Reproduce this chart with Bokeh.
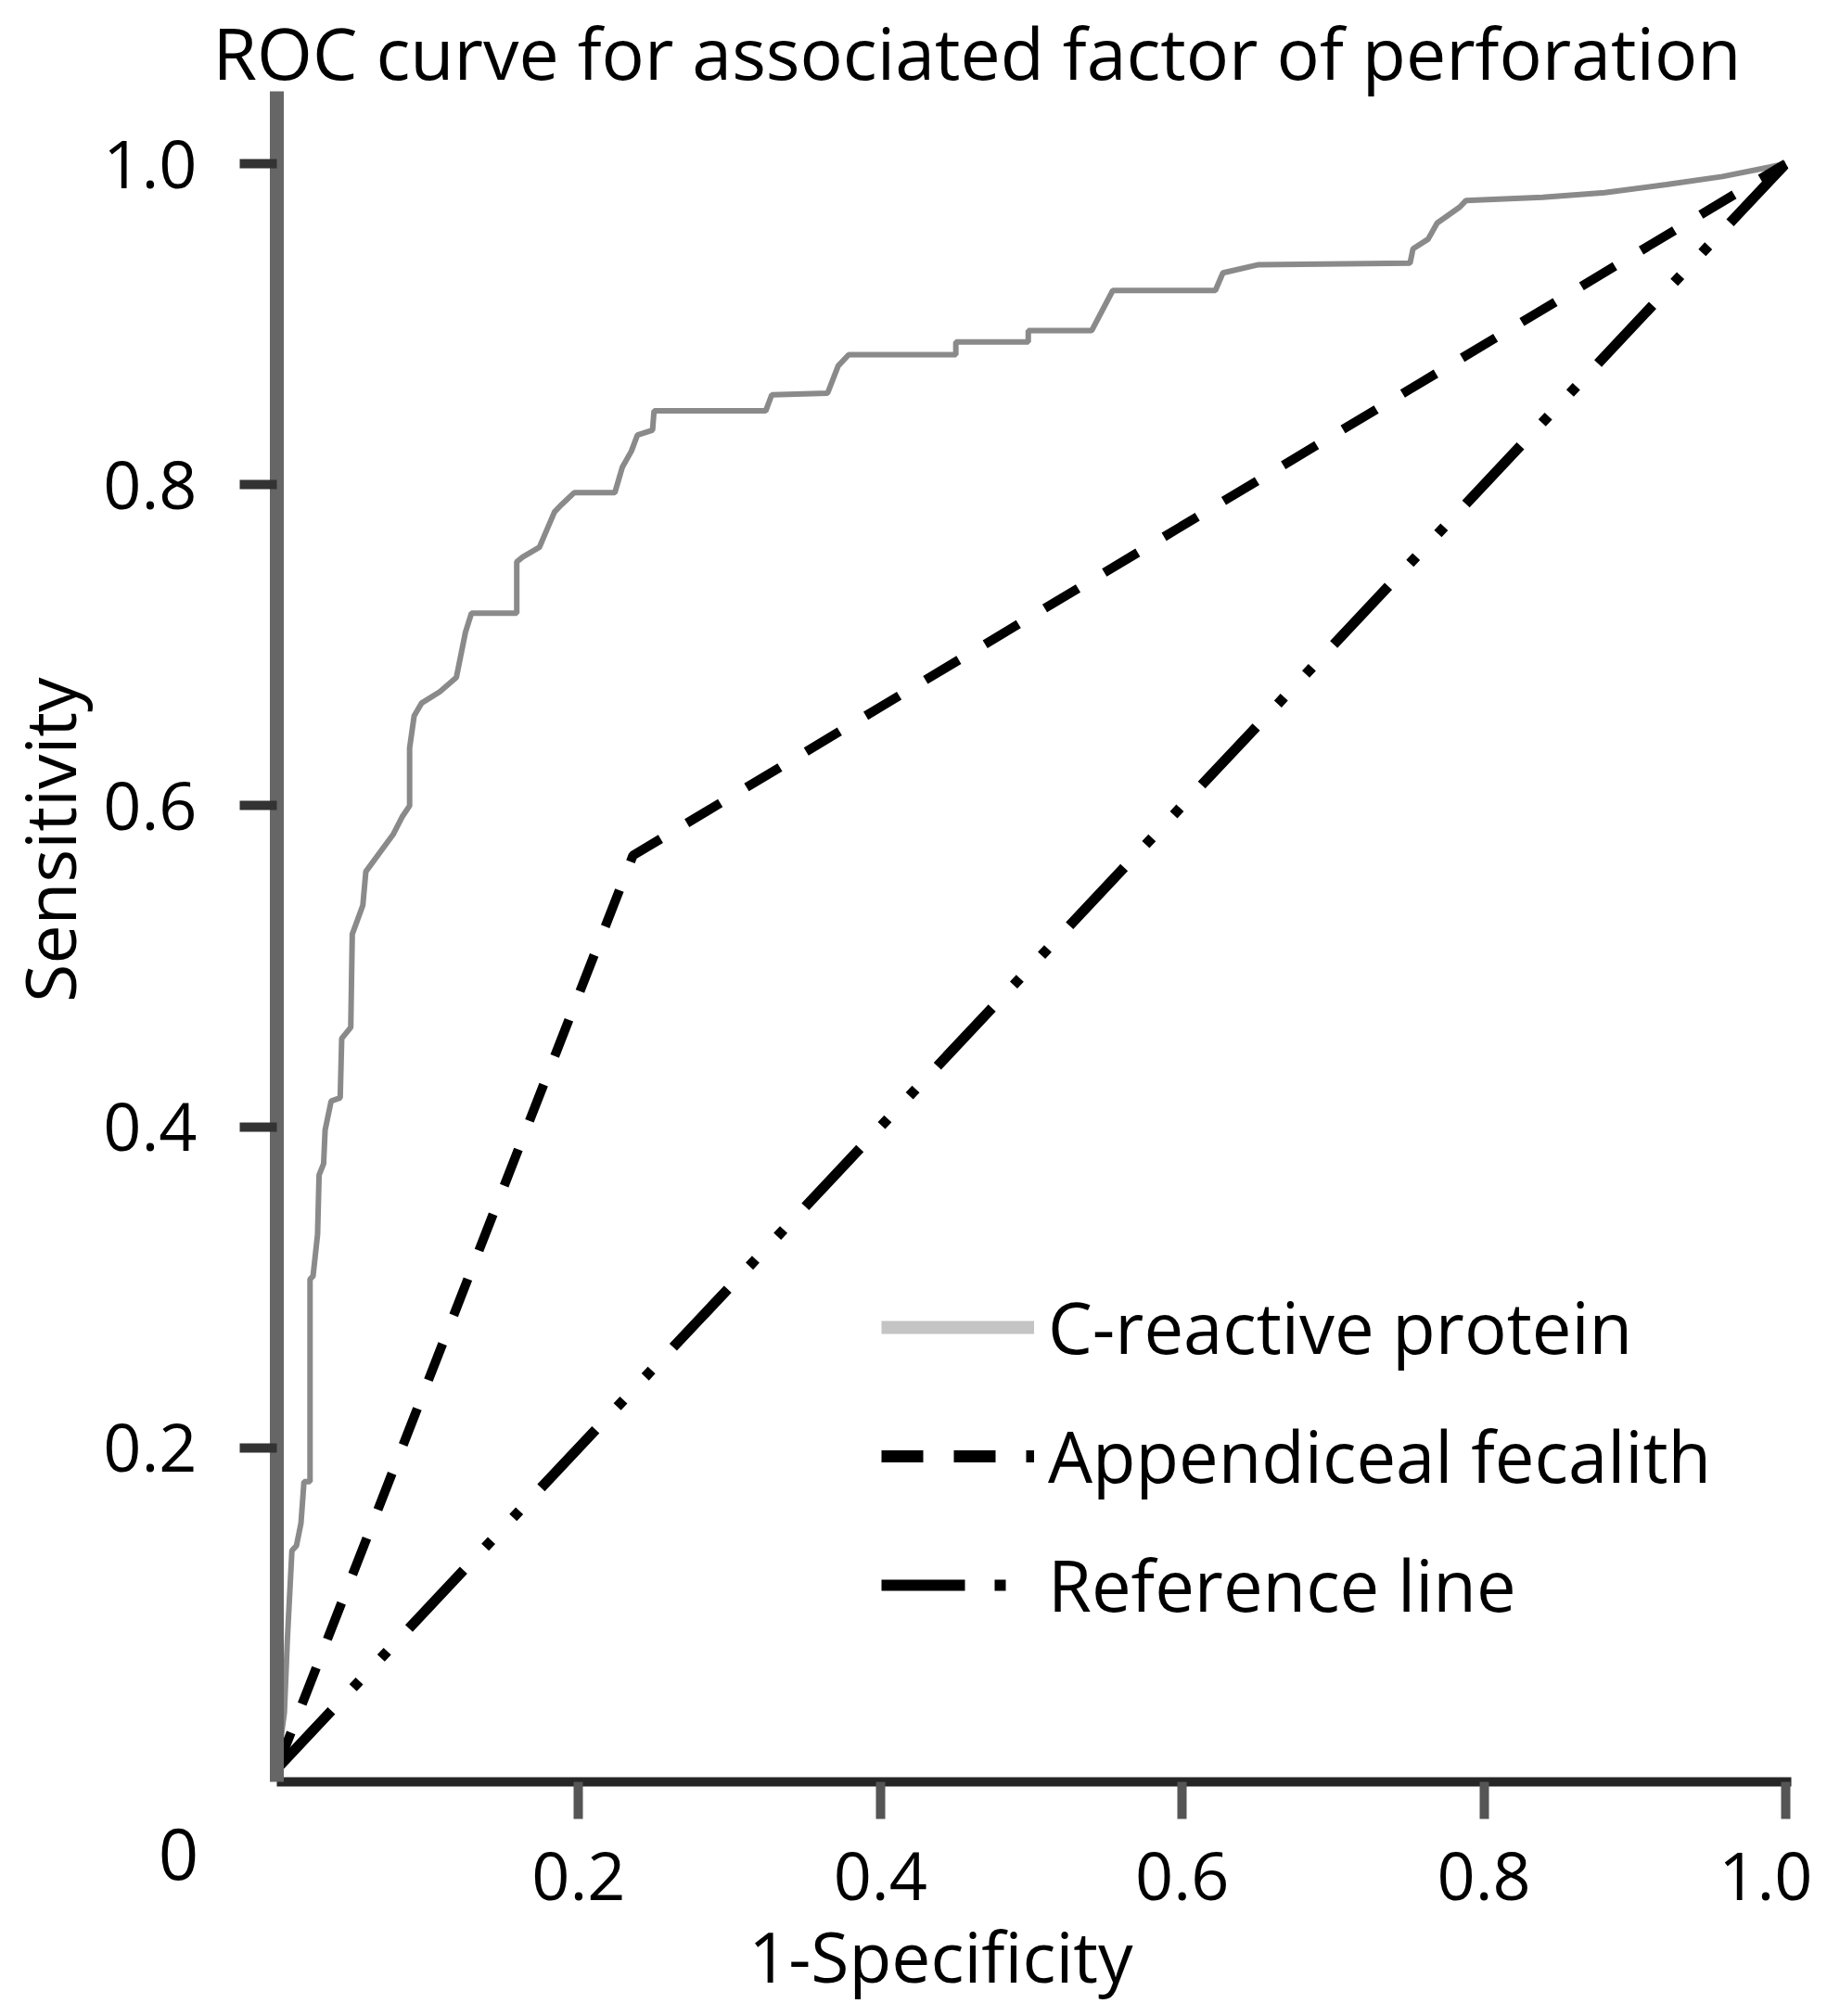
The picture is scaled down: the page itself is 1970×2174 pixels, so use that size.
import math
from bokeh.plotting import figure
from bokeh.models import (Range1d, FixedTicker, PrintfTickFormatter, Label,
                          Legend, LegendItem)
from bokeh.embed import file_html
from bokeh.resources import INLINE

# ---------------- data ----------------
title_text = "ROC curve for associated factor of perforation"
x_title = "1-Specificity"
y_title = "Sensitivity"
tick_values = [0.2, 0.4, 0.6, 0.8, 1.0]
series_names = ["C-reactive protein", "Appendiceal fecalith", "Reference line"]

crp_fpr = [0, 0.005, 0.007, 0.010, 0.013, 0.016, 0.017, 0.018, 0.022, 0.022,
           0.024, 0.027, 0.028, 0.031, 0.032, 0.036, 0.042, 0.043, 0.049, 0.050,
           0.057, 0.059, 0.077, 0.083, 0.088, 0.088, 0.091, 0.096, 0.108, 0.119,
           0.125, 0.129, 0.159, 0.159, 0.163, 0.174, 0.179, 0.184, 0.188, 0.197,
           0.224, 0.229, 0.235, 0.239, 0.249, 0.250, 0.324, 0.328, 0.365, 0.372,
           0.379, 0.450, 0.450, 0.498, 0.498, 0.540, 0.554, 0.622, 0.627, 0.650,
           0.751, 0.753, 0.763, 0.769, 0.784, 0.788, 0.839, 0.880, 0.921, 0.958,
           0.990, 1.0]
crp_tpr = [0, 0.035, 0.081, 0.136, 0.139, 0.153, 0.166, 0.179, 0.179, 0.305,
           0.307, 0.333, 0.370, 0.377, 0.398, 0.416, 0.418, 0.455, 0.462, 0.520,
           0.538, 0.559, 0.582, 0.593, 0.600, 0.636, 0.656, 0.664, 0.671, 0.680,
           0.708, 0.720, 0.720, 0.752, 0.755, 0.761, 0.772, 0.783, 0.787, 0.795,
           0.795, 0.811, 0.821, 0.831, 0.834, 0.846, 0.846, 0.856, 0.857, 0.874,
           0.881, 0.881, 0.889, 0.889, 0.896, 0.896, 0.921, 0.921, 0.932, 0.937,
           0.938, 0.947, 0.953, 0.963, 0.973, 0.977, 0.979, 0.982, 0.987, 0.992,
           0.998, 1.0]

fec_fpr = [0, 0.236, 1.0]
fec_tpr = [0, 0.569, 1.0]

ref_fpr = [0, 1.0]
ref_tpr = [0, 1.0]

FONT = "Open Sans"
W, H = 1954, 2158

# ---------------- figure ----------------
# frame fills the canvas; axes are drawn at fixed data locations
p = figure(width=W, height=H, title=None,
           x_range=Range1d(-0.18316, 1.01782), y_range=Range1d(-0.14500, 1.10168),
           output_backend="svg", toolbar_location=None,
           min_border=0, min_border_left=0, min_border_right=0,
           min_border_top=0, min_border_bottom=0)
p.outline_line_color = None
p.xgrid.visible = False
p.ygrid.visible = False
p.background_fill_color = "white"
p.border_fill_color = "white"

# curves
r_crp = p.line(crp_fpr, crp_tpr, line_color="#8a8a8a", line_width=6)
r_ref = p.line(ref_fpr, ref_tpr, line_color="black", line_width=11,
               line_dash="86 34 10 34 10 34")
r_fec = p.line(fec_fpr, fec_tpr, line_color="black", line_width=10,
               line_dash="42 33")

# legend-only (hidden) renderers carrying the legend sample styles
l1 = p.line(crp_fpr, crp_tpr, line_color="#c4c4c4", line_width=14, visible=False)
l2 = p.line(fec_fpr, fec_tpr, line_color="black", line_width=13,
            line_dash="45 33", visible=False)
l3 = p.line(ref_fpr, ref_tpr, line_color="black", line_width=12,
            line_dash="90 32 12 32 12 32", visible=False)

legend = Legend(items=[LegendItem(label=series_names[0], renderers=[l1]),
                       LegendItem(label=series_names[1], renderers=[l2]),
                       LegendItem(label=series_names[2], renderers=[l3])],
                location=(950, 398), orientation="vertical",
                glyph_width=165, glyph_height=100, label_height=100,
                label_standoff=15, spacing=36, padding=0, margin=0,
                border_line_alpha=0, background_fill_alpha=0,
                inactive_fill_alpha=0,
                label_text_font=FONT, label_text_font_size="76px",
                label_text_color="black")
p.add_layout(legend)

# axes
xa = p.xaxis[0]
ya = p.yaxis[0]
xa.fixed_location = -0.0081
ya.fixed_location = 0
xa.bounds = (0, 1.0037)
ya.bounds = (-0.0081, 1.045)
for ax in (xa, ya):
    ax.ticker = FixedTicker(ticks=tick_values)
    ax.formatter = PrintfTickFormatter(format="%.1f")
    ax.minor_tick_line_color = None
    ax.major_label_text_font = FONT
    ax.major_label_text_font_size = "72px"
    ax.major_label_text_color = "black"
    ax.major_tick_in = 0
    ax.major_tick_out = 40

ya.axis_line_color = "#666666"
ya.axis_line_width = 15
ya.major_tick_line_color = "#333333"
ya.major_tick_line_width = 10
ya.major_label_standoff = 46

xa.axis_line_color = "#262626"
xa.axis_line_width = 10
xa.major_tick_line_color = "#555555"
xa.major_tick_line_width = 10
xa.major_label_standoff = 35

# texts (screen units: frame == canvas, origin bottom-left)
p.add_layout(Label(x=1053, y=H - 56, x_units="screen", y_units="screen",
                   text=title_text, text_font=FONT, text_font_size="77px",
                   text_align="center", text_baseline="alphabetic",
                   text_color="black"))
p.add_layout(Label(x=52, y=H - 905, x_units="screen", y_units="screen",
                   text=y_title, text_font=FONT, text_font_size="75px",
                   angle=math.pi / 2, text_align="center",
                   text_baseline="alphabetic", text_color="black"))
p.add_layout(Label(x=1014, y=H - 2108, x_units="screen", y_units="screen",
                   text=x_title, text_font=FONT, text_font_size="75px",
                   text_align="center", text_baseline="alphabetic",
                   text_color="black"))
p.add_layout(Label(x=192, y=H - 1998, x_units="screen", y_units="screen",
                   text="0", text_font=FONT, text_font_size="76px",
                   text_align="center", text_baseline="alphabetic",
                   text_color="black"))

open("out.html", "w").write(file_html(p, INLINE))
